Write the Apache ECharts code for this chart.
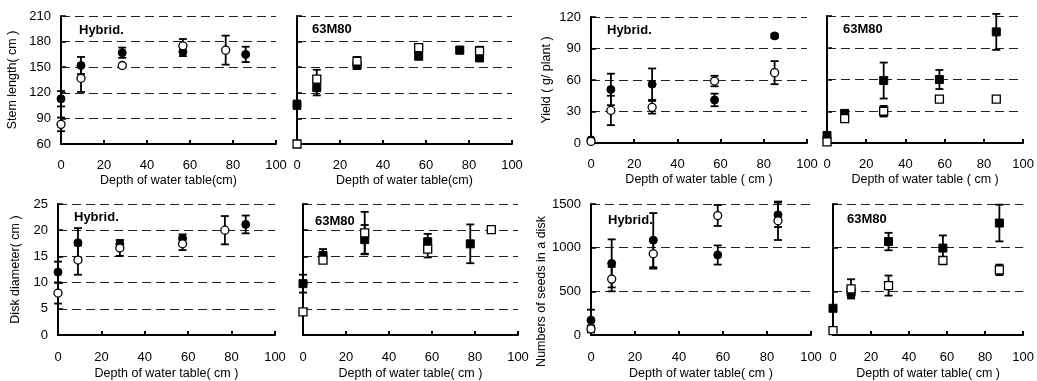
<!DOCTYPE html>
<html><head><meta charset="utf-8">
<script src="https://cdn.jsdelivr.net/npm/echarts@6/dist/echarts.min.js"></script>
<style>html,body{margin:0;padding:0;background:#fff}#c{width:1037px;height:381px}</style>
</head><body><div id="c"></div>
<script>
// ---------- DATA ----------
// Stem length (cm)
const stemHybridDepth   = [0, 9.3, 28.5, 56.7, 76.6, 85.9];
const stemHybridFilled  = [113, 152, 167, 168, null, 165];
const stemHybridFilledE = [9, 10, 6, 5, null, 9];
const stemHybridOpen    = [83, 137, 152, 175, 170, null];
const stemHybridOpenE   = [8, 16, 2, 8, 17, null];

const stem63Depth   = [0, 9.2, 27.9, 56.6, 75.7, 84.9];
const stem63Filled  = [106, 126, 152, 163, 170, 161];
const stem63FilledE = [5, 9, 4, 4, 4, 4];
const stem63Open    = [60, 136, 157, 173, null, 169];
const stem63OpenE   = [0, 11, 5, 4, null, 5];

// Yield (g/plant)
const yieldHybridDepth   = [0, 9.2, 28.3, 57.2, 85];
const yieldHybridFilled  = [3, 51, 56, 41, 102];
const yieldHybridFilledE = [1, 15, 15, 6, 2];
const yieldHybridOpen    = [1.5, 31, 34, 59, 67];
const yieldHybridOpenE   = [0, 14, 6, 5, 11];

const yield63Depth   = [0, 9, 28.9, 57.3, 86.3];
const yield63Filled  = [7, 28, 59, 60, 105];
const yield63FilledE = [2, 2, 17, 9, 17];
const yield63Open    = [1, 23, 30, 41.5, 41.5];
const yield63OpenE   = [0, 3, 5, 0, 0];

// Disk diameter (cm)
const diskHybridDepth   = [0, 9.2, 28.5, 57.4, 76.9, 86.5];
const diskHybridFilled  = [12, 17.6, 17.4, 18.4, null, 21.1];
const diskHybridFilledE = [2, 2.8, 0.7, 0.8, null, 1.7];
const diskHybridOpen    = [8, 14.3, 16.6, 17.4, 20, null];
const diskHybridOpenE   = [2, 2.8, 1.5, 1.2, 2.7, null];

const disk63Depth   = [0, 9.3, 28.7, 58, 77.8, 87.6];
const disk63Filled  = [9.8, 15.2, 18.2, 17.8, 17.4, null];
const disk63FilledE = [1.7, 1.2, 2.8, 1.5, 3.7, null];
const disk63Open    = [4.4, 14.3, 19.5, 16.4, null, 20.1];
const disk63OpenE   = [0, 0.5, 4, 1.6, null, 0.5];

// Numbers of seeds in a disk
const seedHybridDepth   = [0, 9.4, 28.3, 57.6, 85];
const seedHybridFilled  = [170, 820, 1086, 916, 1376];
const seedHybridFilledE = [120, 275, 310, 110, 140];
const seedHybridOpen    = [70, 640, 930, 1368, 1308];
const seedHybridOpenE   = [40, 140, 170, 120, 220];

const seed63Depth   = [0, 9.5, 29.2, 57.8, 87.5];
const seed63Filled  = [306, 490, 1070, 995, 1282];
const seed63FilledE = [0, 55, 100, 145, 210];
const seed63Open    = [50, 528, 566, 853, 746];
const seed63OpenE   = [0, 110, 115, 20, 60];

// ---------- LAYOUT ----------
const FONT = 'Liberation Sans, Arial, sans-serif';
const panels = [
  {grid:{left:61,top:16,width:215,height:128}, y:[60,210,30], yName:'Stem length( cm )', yGap:42, xName:'Depth of water table(cm)',
   d:[stemHybridDepth,stemHybridFilled,stemHybridFilledE,stemHybridOpen,stemHybridOpenE], sym:'circle', label:'Hybrid.', lp:[79,24], row:0},
  {grid:{left:297,top:16,width:215,height:128}, y:[60,210,30], yName:'', xName:'Depth of water table(cm)',
   d:[stem63Depth,stem63Filled,stem63FilledE,stem63Open,stem63OpenE], sym:'rect', label:'63M80', lp:[312,23], row:0},
  {grid:{left:591,top:17,width:216,height:126}, y:[0,120,30], yName:'Yield ( g/ plant )', yGap:38, xName:'Depth of water table ( cm )',
   d:[yieldHybridDepth,yieldHybridFilled,yieldHybridFilledE,yieldHybridOpen,yieldHybridOpenE], sym:'circle', label:'Hybrid.', lp:[607,24], row:0},
  {grid:{left:827,top:16,width:213,height:127}, y:[0,120,30], yName:'', xName:'Depth of water table ( cm )',
   d:[yield63Depth,yield63Filled,yield63FilledE,yield63Open,yield63OpenE], sym:'rect', label:'63M80', lp:[843,23], row:0},
  {grid:{left:58,top:204,width:217,height:133}, y:[0,25,5], yName:'Disk diameter( cm )', yGap:36, xName:'Depth of water table( cm )',
   d:[diskHybridDepth,diskHybridFilled,diskHybridFilledE,diskHybridOpen,diskHybridOpenE], sym:'circle', label:'Hybrid.', lp:[74,211], row:1},
  {grid:{left:303,top:204,width:215,height:132}, y:[0,25,5], yName:'', xName:'Depth of water table( cm )',
   d:[disk63Depth,disk63Filled,disk63FilledE,disk63Open,disk63OpenE], sym:'rect', label:'63M80', lp:[315,215], row:1},
  {grid:{left:591,top:204,width:220,height:132}, y:[0,1500,500], yName:'Numbers of seeds in a disk', yGap:40, yShift:44, xName:'Depth of water table( cm )',
   d:[seedHybridDepth,seedHybridFilled,seedHybridFilledE,seedHybridOpen,seedHybridOpenE], sym:'circle', label:'Hybrid.', lp:[608,214], row:1},
  {grid:{left:833,top:204,width:217,height:131}, y:[0,1500,500], yName:'', xName:'Depth of water table( cm )',
   d:[seed63Depth,seed63Filled,seed63FilledE,seed63Open,seed63OpenE], sym:'rect', label:'63M80', lp:[847,213], row:1}
];

function pts(xs, ys){ const o=[]; xs.forEach((x,i)=>{ if(ys[i]!=null) o.push([x,ys[i]]); }); return o; }
function errPts(xs, ys, es){ const o=[]; xs.forEach((x,i)=>{ if(ys[i]!=null && es[i]) o.push([x,ys[i],es[i]]); }); return o; }

function errRender(params, api){
  const x=api.value(0), y=api.value(1), e=api.value(2);
  const t=api.coord([x,y+e]), b=api.coord([x,y-e]);
  const hw=4;
  const st={stroke:'#000', lineWidth:1.8, fill:null};
  return {type:'group', children:[
    {type:'line', shape:{x1:t[0],y1:t[1],x2:b[0],y2:b[1]}, style:st},
    {type:'line', shape:{x1:t[0]-hw,y1:t[1],x2:t[0]+hw,y2:t[1]}, style:st},
    {type:'line', shape:{x1:b[0]-hw,y1:b[1],x2:b[0]+hw,y2:b[1]}, style:st}
  ]};
}

const grids=[], xAxes=[], yAxes=[], series=[], graphics=[];
panels.forEach((p,i)=>{
  grids.push(p.grid);
  xAxes.push({
    type:'value', gridIndex:i, min:0, max:100, interval:20,
    name:p.xName, nameLocation:'middle', nameGap: p.row===0?30:32,
    nameTextStyle:{fontFamily:FONT, fontSize:12.5, color:'#000'},
    axisLine:{show:true, onZero:false, lineStyle:{color:'#000', width:2}},
    axisTick:{show:true, inside:true, length:4, lineStyle:{color:'#000', width:2}},
    axisLabel:{fontFamily:FONT, fontSize:13, color:'#000', margin: p.row===0?15:16, showMaxLabel:true, hideOverlap:false,
      formatter:v=>String(v)},
    splitLine:{show:false}
  });
  const ya = {
    type:'value', gridIndex:i, min:p.y[0], max:p.y[1], interval:p.y[2],
    axisLine:{show:true, onZero:false, lineStyle:{color:'#000', width:2}},
    axisTick:{show:true, inside:true, length:5, lineStyle:{color:'#000', width:1.5}},
    axisLabel:{show: !!p.yName, fontFamily:FONT, fontSize:13, color:'#000', margin:10, formatter:v=>String(v)},
    splitLine:{show:true, lineStyle:{color:'#222', width:1, type:[9,5]}}
  };
  if(p.yName){
    ya.name=p.yName; ya.nameLocation='middle'; ya.nameGap=p.yGap;
    ya.nameTextStyle={fontFamily:FONT, fontSize:12.5, color:'#000'};
    if(p.yShift) ya.nameTextStyle.padding=[0,p.yShift,0,0];
  }
  yAxes.push(ya);
  const [xs,fy,fe,oy,oe]=p.d;
  series.push({type:'custom', xAxisIndex:i, yAxisIndex:i, renderItem:errRender, data:errPts(xs,fy,fe), z:2, silent:true, encode:{x:0,y:1}});
  series.push({type:'custom', xAxisIndex:i, yAxisIndex:i, renderItem:errRender, data:errPts(xs,oy,oe), z:2, silent:true, encode:{x:0,y:1}});
  series.push({type:'scatter', xAxisIndex:i, yAxisIndex:i, data:pts(xs,fy), symbol:p.sym, symbolSize:8, clip:false, z:3,
    itemStyle:{color:'#000', borderColor:'#000', borderWidth:1, opacity:1}});
  series.push({type:'scatter', xAxisIndex:i, yAxisIndex:i, data:pts(xs,oy), symbol:p.sym, symbolSize:8, clip:false, z:4,
    itemStyle:{color:'#fff', borderColor:'#000', borderWidth:1.3, opacity:1}});
  graphics.push({type:'text', left:p.lp[0], top:p.lp[1], z:10,
    style:{text:p.label, font:'bold 13px '+FONT, fill:'#000'}});
});

const chart = echarts.init(document.getElementById('c'), null, {renderer:'canvas'});
chart.setOption({
  animation:false,
  backgroundColor:'#fff',
  grid:grids, xAxis:xAxes, yAxis:yAxes, series:series, graphic:graphics
});
</script></body></html>
